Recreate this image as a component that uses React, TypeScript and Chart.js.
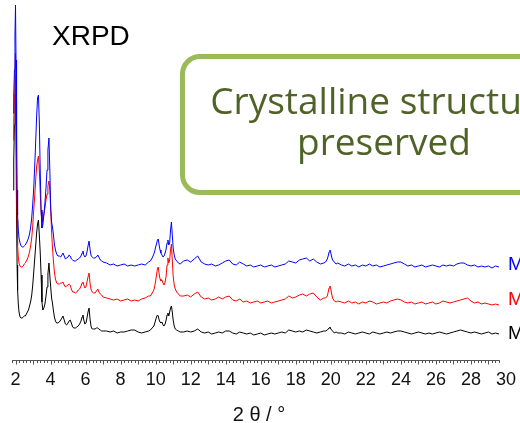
import React, { useEffect, useRef } from "react";
import { Chart, registerables } from "chart.js";

Chart.register(...registerables);

// 2θ positions (degrees)
const twoTheta = [
  1.86, 1.9, 1.94, 1.97, 2.0, 2.03, 2.06, 2.09, 2.12, 2.16,
  2.2, 2.26, 2.32, 2.38, 2.44, 2.5, 2.56, 2.62, 2.68, 2.74,
  2.8, 2.86, 2.92, 2.98, 3.04, 3.1, 3.16, 3.21, 3.26, 3.31,
  3.36, 3.41, 3.46, 3.51, 3.56, 3.62, 3.68, 3.74, 3.8, 3.85,
  3.91, 3.96, 4.01, 4.06, 4.11, 4.16, 4.22, 4.28, 4.35, 4.42,
  4.5, 4.58, 4.65, 4.71, 4.78, 4.85, 4.92, 5.0, 5.06, 5.12,
  5.19, 5.26, 5.34, 5.42, 5.5, 5.58, 5.66, 5.74, 5.8, 5.85,
  5.9, 5.96, 6.02, 6.08, 6.14, 6.2, 6.26, 6.32, 6.38, 6.46,
  6.54, 6.62, 6.7, 6.76, 6.84, 6.92, 7.0,
  7.2, 7.4, 7.6, 7.8, 8.0, 8.2, 8.4, 8.6, 8.8, 9.0, 9.2, 9.4, 9.6,
  9.7, 9.8, 9.9, 9.95, 10.0, 10.05, 10.1, 10.15, 10.2, 10.25,
  10.3, 10.36, 10.42, 10.48, 10.54, 10.6, 10.65, 10.7, 10.75, 10.8,
  10.85, 10.9, 10.95, 11.0, 11.06, 11.12, 11.2, 11.3, 11.4,
  11.6, 11.8, 12.0, 12.2, 12.4, 12.6, 12.8, 13.0, 13.2, 13.4,
  13.6, 13.8, 14.0, 14.2, 14.4, 14.6, 14.8, 15.0, 15.2, 15.4,
  15.6, 15.8, 16.0, 16.2, 16.4, 16.6, 16.8, 17.0, 17.2, 17.4,
  17.6, 17.8, 18.0, 18.2, 18.4, 18.6, 18.8, 19.0, 19.2, 19.4, 19.6,
  19.7, 19.8, 19.85, 19.9, 19.95, 20.0, 20.05, 20.1, 20.2, 20.3, 20.4,
  20.6, 20.8, 21.0, 21.2, 21.4, 21.6, 21.8, 22.0, 22.2, 22.4,
  22.6, 22.8, 23.0, 23.2, 23.4, 23.6, 23.8, 24.0, 24.2, 24.4,
  24.6, 24.8, 25.0, 25.2, 25.4, 25.6, 25.8, 26.0, 26.2, 26.4,
  26.6, 26.8, 27.0, 27.2, 27.4, 27.6, 27.8, 28.0, 28.2, 28.4,
  28.6, 28.8, 29.0, 29.2, 29.4, 29.6,
];

// Top trace (blue), offset intensity, a.u.
const blueTrace = [
  247, 265, 290, 325, 355, 300, 220, 170, 145, 130,
  122, 117, 114, 113, 113, 114, 115, 117, 119, 122,
  126, 132, 141, 155, 172, 195, 222, 245, 262, 265,
  238, 190, 150, 132, 135, 145, 157, 172, 190, 210,
  222, 190, 152, 138, 133, 126, 116, 110, 106, 104,
  104, 103, 105, 107, 104, 101, 102, 103, 105, 104,
  101, 100, 99, 99, 100, 101, 102, 104, 107, 109,
  105, 103, 104, 108, 114, 119, 110, 104, 103, 102,
  102, 103, 105, 103, 100, 99, 98,
  97, 95, 96, 94, 95, 96, 94, 95, 94, 95, 96, 95, 98,
  99, 102, 106, 109, 113, 116, 120, 121, 115, 110,
  107, 105, 103, 104, 107, 111, 117, 120, 115, 117,
  130, 138, 125, 112, 105, 101, 99, 97, 96,
  99, 100, 98, 101, 104, 98, 96, 95, 96, 94,
  95, 97, 99, 100, 96, 95, 98, 96, 94, 95,
  93, 94, 95, 93, 94, 95, 93, 94, 95, 96,
  99, 98, 97, 100, 101, 102, 99, 101, 98, 96, 97,
  98, 101, 104, 108, 110, 107, 103, 100, 98, 96, 97,
  95, 94, 96, 94, 95, 93, 95, 94, 96, 94,
  95, 93, 94, 95, 96, 97, 98, 98, 96, 94,
  95, 93, 94, 95, 93, 94, 95, 94, 93, 95,
  94, 95, 94, 96, 97, 97, 95, 94, 95, 93,
  94, 93, 94, 92, 94, 93,
];

// Middle trace (red)
const redTrace = [
  220, 240, 265, 290, 307, 260, 190, 140, 115, 103,
  97, 94, 93, 93, 94, 96, 97, 99, 101, 104,
  108, 114, 121, 133, 150, 165, 182, 194, 200, 204,
  190, 168, 148, 138, 140, 146, 152, 160, 166, 174,
  179, 170, 150, 128, 113, 100, 88, 81, 77, 76,
  76, 77, 77, 78, 75, 73, 74, 75, 76, 75,
  71, 68, 68, 67, 68, 70, 71, 74, 77, 78,
  75, 72, 73, 78, 83, 87, 76, 70, 68, 67,
  67, 69, 71, 68, 66, 65, 63,
  62, 61, 60, 61, 59, 60, 61, 59, 60, 59, 61, 62, 64,
  64, 67, 70, 74, 79, 85, 91, 93, 86, 81,
  79, 80, 77, 75, 78, 84, 95, 102, 97, 100,
  110, 116, 100, 84, 75, 71, 68, 66, 64,
  64, 65, 63, 66, 68, 63, 61, 62, 60, 61,
  63, 61, 63, 64, 60, 59, 61, 58, 59, 57,
  58, 59, 57, 58, 59, 57, 58, 59, 60, 61,
  64, 62, 63, 65, 66, 64, 66, 67, 63, 60, 62,
  62, 64, 68, 72, 74, 71, 66, 62, 59, 58, 59,
  58, 57, 59, 57, 58, 56, 58, 57, 59, 58,
  56, 57, 58, 57, 59, 60, 61, 60, 58, 57,
  58, 56, 57, 58, 56, 57, 58, 56, 57, 59,
  58, 57, 58, 59, 60, 61, 62, 59, 57, 58,
  56, 57, 56, 55, 56, 55,
];

// Bottom trace (black)
const blackTrace = [
  170, 200, 235, 265, 285, 220, 140, 95, 70, 56,
  48, 43, 42, 42, 43, 44, 44, 46, 48, 50,
  54, 58, 64, 74, 88, 102, 116, 128, 136, 140,
  125, 108, 85, 58, 50, 52, 56, 64, 73, 86,
  97, 84, 73, 62, 57, 50, 43, 39, 37, 37,
  38, 40, 42, 44, 40, 36, 35, 37, 39, 40,
  37, 33, 32, 32, 33, 34, 36, 39, 43, 45,
  40, 36, 37, 42, 48, 52, 40, 33, 31, 31,
  31, 32, 32, 31, 30, 29, 29,
  29, 28, 29, 27, 28, 28, 29, 30, 30, 28, 27, 28, 29,
  30, 32, 34, 37, 40, 43, 45, 44, 40, 38,
  37, 38, 35, 34, 36, 40, 45, 47, 44, 48,
  52, 54, 48, 40, 34, 31, 30, 29, 28,
  28, 29, 28, 29, 31, 28, 27, 28, 26, 27,
  28, 27, 29, 29, 27, 26, 28, 27, 26, 27,
  25, 26, 27, 25, 26, 27, 26, 27, 28, 27,
  30, 29, 28, 29, 28, 30, 29, 28, 27, 28, 29,
  29, 30, 31, 32, 33, 31, 30, 29, 27, 28, 27,
  27, 26, 28, 27, 26, 27, 28, 27, 26, 28,
  27, 26, 27, 28, 27, 28, 29, 29, 28, 27,
  26, 27, 28, 27, 26, 27, 26, 27, 28, 27,
  26, 27, 28, 29, 30, 29, 28, 27, 28, 27,
  26, 27, 28, 26, 27, 26,
];

const xTickLabels = [2, 4, 6, 8, 10, 12, 14, 16, 18, 20, 22, 24, 26, 28, 30];
const xMin = 1.8;
const xMax = 30;
const axisEnd = 29.65;
const minorStep = 0.2;
const seriesNames = ["M", "M", "M"];
const seriesColors = ["#0000ff", "#ff0000", "#000000"];

const rulerPlugin = {
  id: "ruler",
  afterDraw(chart: any) {
    const sx = chart.scales.x;
    const ctx = chart.ctx;
    const y = Math.round(chart.chartArea.bottom) + 0.5;
    ctx.save();
    ctx.strokeStyle = "#555";
    ctx.lineWidth = 1;
    ctx.beginPath();
    ctx.moveTo(sx.getPixelForValue(xMin), y);
    ctx.lineTo(sx.getPixelForValue(axisEnd), y);
    const n = Math.floor((axisEnd - xMin) / minorStep + 1e-6);
    for (let k = 0; k <= n; k++) {
      const v = xMin + k * minorStep;
      const px = Math.round(sx.getPixelForValue(v)) + 0.5;
      const isUnit = Math.abs(v - Math.round(v)) < 1e-6;
      ctx.moveTo(px, y);
      ctx.lineTo(px, y + (isUnit ? 4 : 2.5));
    }
    ctx.stroke();
    ctx.restore();
  },
};

export default function App() {
  const canvasRef = useRef<HTMLCanvasElement | null>(null);

  useEffect(() => {
    if (!canvasRef.current) return;
    const traces = [blueTrace, redTrace, blackTrace];
    const chart = new Chart(canvasRef.current, {
      type: "line",
      data: {
        datasets: traces.map((arr, i) => ({
          label: seriesNames[i],
          data: twoTheta.map((x, j) => ({ x, y: arr[j] })),
          borderColor: seriesColors[i],
          borderWidth: 1,
          pointRadius: 0,
          fill: false,
          tension: 0,
        })),
      },
      options: {
        responsive: false,
        animation: false,
        devicePixelRatio: 1,
        layout: { padding: { left: 12, right: 14, top: 0, bottom: 0 } },
        plugins: { legend: { display: false }, tooltip: { enabled: false } },
        scales: {
          x: {
            type: "linear",
            min: xMin,
            max: xMax,
            grid: { display: false },
            border: { display: false },
            afterBuildTicks: (scale: any) => {
              scale.ticks = xTickLabels.map((v) => ({ value: v }));
            },
            afterFit: (scale: any) => {
              scale.height = 63;
            },
            ticks: {
              autoSkip: false,
              maxRotation: 0,
              padding: 1,
              color: "#111",
              font: { family: "'Liberation Sans', Arial, sans-serif", size: 18 },
              callback: (v: any) => String(v),
            },
            title: {
              display: true,
              text: "2 θ / °",
              color: "#111",
              padding: { top: 0, bottom: -4 },
              font: { family: "'Liberation Sans', Arial, sans-serif", size: 20 },
            },
          },
          y: { display: false, min: 0, max: 360 },
        },
      },
      plugins: [rulerPlugin],
    });
    return () => chart.destroy();
  }, []);

  const labelTops = [254, 289, 323];

  return (
    <div
      style={{
        position: "fixed",
        left: 0,
        top: 0,
        width: 520,
        height: 423,
        overflow: "hidden",
        background: "#fff",
      }}
    >
      <canvas
        ref={canvasRef}
        width={520}
        height={423}
        style={{ position: "absolute", left: 0, top: 0, width: 520, height: 423 }}
      />
      <div
        style={{
          position: "absolute",
          left: 52,
          top: 22,
          fontFamily: "'Liberation Sans', Arial, sans-serif",
          fontSize: 28,
          lineHeight: "28px",
          color: "#000",
        }}
      >
        XRPD
      </div>
      <div
        style={{
          position: "absolute",
          left: 180,
          top: 54,
          width: 408,
          height: 141,
          boxSizing: "border-box",
          border: "5px solid #9BBB59",
          borderRadius: 20,
          paddingTop: 20,
          textAlign: "center",
          fontFamily: "'Open Sans', sans-serif",
          fontSize: 37,
          lineHeight: "41px",
          color: "#4F6228",
          whiteSpace: "nowrap",
        }}
      >
        Crystalline structure
        <br />
        preserved
      </div>
      {seriesNames.map((name, i) => (
        <div
          key={i}
          style={{
            position: "absolute",
            left: 508,
            top: labelTops[i],
            fontFamily: "'Liberation Sans', Arial, sans-serif",
            fontSize: 19,
            lineHeight: "19px",
            color: seriesColors[i],
            whiteSpace: "nowrap",
          }}
        >
          {name}
        </div>
      ))}
    </div>
  );
}
